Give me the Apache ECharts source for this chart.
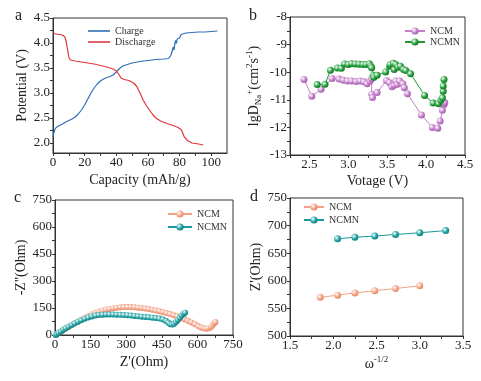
<!DOCTYPE html>
<html><head><meta charset="utf-8">
<script src="https://cdn.jsdelivr.net/npm/echarts@6/dist/echarts.min.js"></script>
<style>html,body{margin:0;padding:0;background:#fff}#c{width:481px;height:381px}</style>
</head><body><div id="c"></div><script>
// ---------- Panel a: charge / discharge ----------
const chargeCurve = [[0,2.12],[0.5,2.2],[1,2.26],[2,2.31],[4,2.35],[6,2.38],[8,2.42],[10,2.45],[12,2.48],[14,2.52],[16,2.58],[18,2.66],[20,2.76],[22,2.88],[24,3.0],[26,3.1],[28,3.18],[30,3.24],[32,3.28],[34,3.31],[36,3.33],[38,3.36],[40,3.42],[42,3.49],[44,3.54],[47,3.57],[50,3.6],[55,3.63],[60,3.65],[65,3.67],[70,3.68],[73,3.69],[74.5,3.75],[75.5,3.86],[76,3.92],[76.5,3.86],[77,3.98],[77.5,4.05],[78,3.99],[78.5,4.08],[79,4.12],[80,4.1],[81,4.17],[84,4.2],[88,4.21],[92,4.22],[96,4.22],[100,4.23],[104,4.24]];
const dischargeCurve = [[0,4.19],[2,4.18],[4,4.17],[6,4.16],[7.5,4.12],[8.5,4.0],[9.3,3.85],[10,3.72],[11,3.66],[14,3.64],[18,3.62],[22,3.6],[26,3.58],[30,3.55],[34,3.52],[38,3.48],[40,3.44],[41.5,3.38],[43,3.3],[45,3.27],[48,3.25],[51,3.2],[53,3.13],[55,3.0],[57,2.86],[59,2.75],[61,2.66],[63,2.57],[65,2.5],[68,2.44],[72,2.39],[76,2.35],[79,2.31],[81,2.27],[82,2.2],[83,2.12],[85,2.05],[88,2.0],[92,1.98],[95,1.96]];
const aXTicks = [0,10,20,30,40,50,60,70,80,90,100];
const aXLabels = [0,20,40,60,80,100];
const aYTicks = [2.0,2.25,2.5,2.75,3.0,3.25,3.5,3.75,4.0,4.25,4.5];
const aYLabels = [2.0,2.5,3.0,3.5,4.0,4.5];

// ---------- Panel b: diffusion coefficient ----------
const ncmDiff = [[2.43,-10.26],[2.53,-10.87],[2.65,-10.62],[2.79,-10.23],[2.88,-10.25],[2.935,-10.29],[2.99,-10.32],[3.04,-10.32],[3.10,-10.34],[3.15,-10.32],[3.20,-10.35],[3.24,-10.42],[3.28,-10.32],[3.30,-10.23],[3.30,-10.8],[3.31,-10.92],[3.37,-10.74],[3.49,-10.30],[3.53,-10.38],[3.56,-10.53],[3.59,-10.47],[3.61,-10.32],[3.63,-10.44],[3.66,-10.32],[3.70,-10.42],[3.72,-10.56],[3.76,-10.78],[3.94,-11.55],[4.08,-12.0],[4.15,-12.03],[4.18,-11.77],[4.21,-11.38],[4.23,-11.17],[4.24,-11.1]];
const ncmnDiff = [[2.6,-10.45],[2.7,-10.44],[2.77,-9.93],[2.86,-9.85],[2.91,-9.86],[2.95,-9.7],[3.0,-9.72],[3.04,-9.69],[3.09,-9.7],[3.14,-9.71],[3.19,-9.72],[3.23,-9.72],[3.27,-9.69],[3.29,-9.78],[3.30,-9.84],[3.32,-10.11],[3.33,-10.18],[3.37,-10.11],[3.48,-9.99],[3.53,-9.78],[3.54,-9.72],[3.58,-9.68],[3.59,-9.9],[3.61,-9.72],[3.64,-9.82],[3.67,-9.78],[3.71,-9.9],[3.74,-9.94],[3.8,-10.06],[3.98,-10.84],[4.09,-11.12],[4.16,-11.14],[4.19,-11.02],[4.21,-10.93],[4.22,-10.69],[4.22,-10.5],[4.23,-10.26]];
const bXTicks = [2.25,2.5,2.75,3.0,3.25,3.5,3.75,4.0,4.25,4.5];
const bXLabels = [2.5,3.0,3.5,4.0,4.5];
const bYTicks = [-13,-12.5,-12,-11.5,-11,-10.5,-10,-9.5,-9,-8.5,-8];
const bYLabels = [-13,-12,-11,-10,-9,-8];

// ---------- Panel c: Nyquist ----------
const ncmNyq = [[5,0],[12,8],[20,15],[30,24],[40,32],[52,42],[65,52],[80,63],[95,74],[110,85],[125,96],[140,106],[155,115],[170,123],[185,130],[200,136],[215,141],[230,145],[245,149],[260,152],[275,154],[290,155],[305,155],[320,155],[335,154],[350,152],[365,150],[380,147],[395,144],[410,140],[425,136],[440,132],[455,127],[470,122],[485,116],[500,110],[515,104],[530,96],[545,88],[560,79],[575,70],[590,60],[603,50],[615,42],[627,37],[638,35],[648,38],[657,45],[665,55],[672,66],[676,72]];
const ncmnNyq = [[3,0],[8,5],[15,12],[25,20],[35,29],[45,37],[57,46],[70,56],[83,65],[97,74],[110,82],[125,90],[140,97],[155,103],[170,108],[185,111],[200,113],[215,114],[230,114],[245,114],[260,113],[275,112],[290,111],[305,110],[320,108],[335,106],[350,104],[365,102],[380,100],[395,98],[410,96],[425,94],[440,91],[455,86],[468,78],[478,68],[486,60],[494,58],[502,62],[510,72],[518,84],[526,96],[534,108],[542,118],[548,124]];
const cTicks = [0,75,150,225,300,375,450,525,600,675,750];
const cLabels = [0,150,300,450,600,750];

// ---------- Panel d: Z' vs omega^-1/2 ----------
const ncmWarburg = [[1.85,570],[2.05,574],[2.25,578],[2.48,582],[2.72,586],[3.0,591]];
const ncmnWarburg = [[2.05,676],[2.25,679],[2.48,681],[2.72,684],[3.0,687],[3.3,691]];
const dXTicks = [1.5,1.75,2.0,2.25,2.5,2.75,3.0,3.25,3.5];
const dXLabels = [1.5,2.0,2.5,3.0,3.5];
const dYTicks = [500,525,550,575,600,625,650,675,700,725,750];
const dYLabels = [500,550,600,650,700,750];

const FONT = '"Liberation Serif","Times New Roman",serif';
const INK = '#222';

function sphere(c, dark) {
  return {type:'radial', x:0.35, y:0.35, r:0.75,
    colorStops:[{offset:0,color:'#ffffff'},{offset:0.55,color:c},{offset:1,color:dark}]};
}
function axis(gi, min, max, ticks, labels, fmt, name, gap, extra) {
  return Object.assign({
    type:'value', gridIndex:gi, min:min, max:max,
    axisLine:{show:true, onZero:false, lineStyle:{color:'#333', width:1}},
    axisTick:{show:true, customValues:ticks, length:3, lineStyle:{color:'#333'}},
    axisLabel:{customValues:labels, formatter:fmt, fontFamily:FONT, fontSize:13, color:INK, margin:3},
    splitLine:{show:false},
    name:name, nameLocation:'middle', nameGap:gap,
    nameTextStyle:{fontFamily:FONT, fontSize:14, color:INK}
  }, extra || {});
}
const f1 = v => v.toFixed(1);
const f0 = v => String(Math.round(v));
const richName = {
  n:{fontFamily:FONT, fontSize:14, color:INK, lineHeight:18},
  sup:{fontFamily:FONT, fontSize:9, color:INK, verticalAlign:'top', lineHeight:18},
  sub:{fontFamily:FONT, fontSize:9, color:INK, verticalAlign:'bottom', lineHeight:18}
};
const gridBox = {show:true, borderColor:'#333', borderWidth:1, backgroundColor:'transparent'};
const legendBase = {orient:'vertical', padding:0, itemGap:1, itemHeight:9, textStyle:{fontFamily:FONT, fontSize:10, color:'#333'},
  formatter: n => n.split('_')[0]};

const chart = echarts.init(document.getElementById('c'), null, {renderer:'canvas'});
chart.setOption({
  animation:false,
  backgroundColor:'#fff',
  grid:[
    Object.assign({left:53, top:18, width:174, height:135}, gridBox),
    Object.assign({left:290, top:17, width:175, height:138}, gridBox),
    Object.assign({left:55, top:200, width:178, height:135}, gridBox),
    Object.assign({left:290, top:198, width:173, height:138}, gridBox)
  ],
  xAxis:[
    axis(0, 0, 110, aXTicks, aXLabels, f0, 'Capacity (mAh/g)', 20),
    axis(1, 2.25, 4.5, bXTicks, bXLabels, f1, 'Votage (V)', 19),
    axis(2, 0, 750, cTicks, cLabels, f0, "Z'(Ohm)", 20),
    axis(3, 1.5, 3.5, dXTicks, dXLabels, f1, '{n|ω}{sup|-1/2}', 19, {nameTextStyle:{rich:richName}})
  ],
  yAxis:[
    axis(0, 1.8, 4.5, aYTicks, aYLabels, f1, 'Potential (V)', 24),
    axis(1, -13, -8, bYTicks, bYLabels, f0, '{n|lgD}{sub|Na}{sup|+}{n|(cm}{sup|2}{n|s}{sup|-1}{n|)}', 27, {nameTextStyle:{rich:richName}}),
    axis(2, 0, 750, cTicks, cLabels, f0, "-Z''(Ohm)", 25),
    axis(3, 500, 750, dYTicks, dYLabels, f0, "Z'(Ohm)", 24)
  ],
  legend:[
    Object.assign({}, legendBase, {data:['Charge','Discharge'], left:88, top:26, itemWidth:22, icon:'rect', itemHeight:1.6, itemGap:1,
      textStyle:{fontFamily:FONT, fontSize:10, color:'#333', lineHeight:10}}),
    Object.assign({}, legendBase, {data:['NCM_b','NCMN_b'], left:404, top:26, itemWidth:20}),
    Object.assign({}, legendBase, {data:['NCM_c','NCMN_c'], left:167, top:209, itemWidth:24, itemGap:3}),
    Object.assign({}, legendBase, {data:['NCM_d','NCMN_d'], left:303, top:202, itemWidth:20, itemGap:3})
  ],
  graphic:[
    {type:'text', left:15, top:8, style:{text:'a', font:'16px '+FONT, fill:INK}},
    {type:'text', left:249, top:8, style:{text:'b', font:'16px '+FONT, fill:INK}},
    {type:'text', left:14, top:190, style:{text:'c', font:'16px '+FONT, fill:INK}},
    {type:'text', left:250, top:189, style:{text:'d', font:'16px '+FONT, fill:INK}}
  ],
  series:[
    {name:'Charge', type:'line', xAxisIndex:0, yAxisIndex:0, data:chargeCurve, symbol:'none',
      lineStyle:{color:'#2e6fb6', width:1.2}, itemStyle:{color:'#2e6fb6'}},
    {name:'Discharge', type:'line', xAxisIndex:0, yAxisIndex:0, data:dischargeCurve, symbol:'none',
      lineStyle:{color:'#e0363c', width:1.2}, itemStyle:{color:'#e0363c'}},
    {name:'NCM_b', type:'line', xAxisIndex:1, yAxisIndex:1, data:ncmDiff, symbol:'circle', symbolSize:7,
      lineStyle:{color:'#c57fcb', width:1}, itemStyle:{color:sphere('#c57fcb','#9a5aa0')}},
    {name:'NCMN_b', type:'line', xAxisIndex:1, yAxisIndex:1, data:ncmnDiff, symbol:'circle', symbolSize:7,
      lineStyle:{color:'#1f9a33', width:1}, itemStyle:{color:sphere('#22a03a','#127022')}},
    {name:'NCM_c', type:'line', xAxisIndex:2, yAxisIndex:2, data:ncmNyq, symbol:'circle', symbolSize:6,
      lineStyle:{color:'#f3a285', width:1}, itemStyle:{color:sphere('#f4a487','#e0805f')}},
    {name:'NCMN_c', type:'line', xAxisIndex:2, yAxisIndex:2, data:ncmnNyq, symbol:'circle', symbolSize:6,
      lineStyle:{color:'#1a9a9c', width:1}, itemStyle:{color:sphere('#1fa2a4','#0f7476')}},
    {name:'NCM_d', type:'line', xAxisIndex:3, yAxisIndex:3, data:ncmWarburg, symbol:'circle', symbolSize:7,
      lineStyle:{color:'#f3a285', width:1}, itemStyle:{color:sphere('#f4a487','#e0805f')}},
    {name:'NCMN_d', type:'line', xAxisIndex:3, yAxisIndex:3, data:ncmnWarburg, symbol:'circle', symbolSize:7,
      lineStyle:{color:'#1a9a9c', width:1}, itemStyle:{color:sphere('#1fa2a4','#0f7476')}}
  ]
});
</script></body></html>
